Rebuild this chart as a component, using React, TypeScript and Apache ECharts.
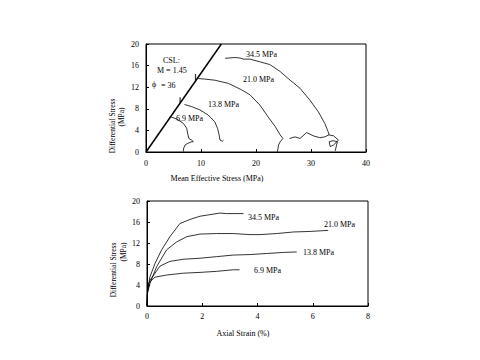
import React, { useEffect, useRef } from "react";
import * as echarts from "echarts";

// ---- Top chart: differential stress vs mean effective stress (MPa) ----
const cslLine: number[][] = [[0, 0], [13.7, 20]];
const stress345: number[][] = [
  [14.4, 17.35], [16.2, 17.5], [17.1, 17.4], [17.7, 17.2], [18.9, 17.2], [20.7, 16.7], [22.5, 16.2],
  [24.4, 14.9], [26.2, 13.3], [28.0, 11.8], [29.8, 9.6], [31.3, 7.5], [32.5, 5.3], [33.1, 3.8],
  [33.3, 3.15], [34.1, 3.0], [35.0, 2.2], [34.1, 1.3], [33.5, 1.0], [33.3, 1.9], [34.0, 2.1],
  [34.8, 1.9], [34.4, 0.2],
];
const stress345b: number[][] = [
  [26.1, 2.5], [27.1, 2.8], [28.0, 2.5], [29.2, 3.6], [30.4, 3.0], [31.6, 2.65], [32.5, 2.8], [33.3, 3.2],
];
const stress210: number[][] = [
  [9.5, 13.6], [10.7, 13.5], [12.5, 13.3], [15.0, 12.7], [17.4, 11.5], [18.9, 10.6], [20.7, 8.7],
  [22.2, 6.5], [23.5, 4.7], [24.4, 3.15], [24.9, 2.5], [24.4, 1.9], [24.1, 1.3], [23.9, 0.05],
];
const stress138: number[][] = [
  [7.0, 8.8], [8.3, 8.4], [9.8, 7.8], [11.3, 6.85], [12.5, 5.6], [13.0, 4.4], [13.3, 3.15],
  [13.45, 2.2], [13.9, 2.0], [14.1, 2.2],
];
const stress69: number[][] = [
  [4.55, 6.5], [5.6, 6.1], [6.8, 5.3], [7.4, 4.4], [7.6, 3.3], [7.8, 2.5], [8.3, 2.2], [8.6, 1.9],
  [8.3, 1.9], [7.6, 1.6], [7.1, 1.3], [6.8, 0.55], [6.8, 0.1],
];
const cslMarks: number[][] = [[9.0, 13.9], [6.2, 9.6]];

// ---- Bottom chart: differential stress vs axial strain (%) ----
const strain345: number[][] = [
  [0, 0], [0.01, 1.8], [0.02, 3.1], [0.11, 5.6], [0.29, 8.1], [0.53, 10.7], [0.83, 13.2], [1.19, 15.7],
  [1.56, 16.5], [1.92, 17.1], [2.28, 17.4], [2.64, 17.7], [2.88, 17.6], [3.49, 17.6],
];
const strain210: number[][] = [
  [0, 0], [0.02, 2.5], [0.11, 4.35], [0.35, 7.5], [0.71, 10.7], [1.07, 12.2], [1.44, 13.2], [1.92, 13.7],
  [2.52, 13.8], [3.12, 13.8], [3.73, 13.6], [4.09, 13.6], [4.69, 13.8], [5.3, 14.1], [5.9, 14.2], [6.56, 14.4],
];
const strain138: number[][] = [
  [0, 0], [0.02, 2.8], [0.11, 4.9], [0.47, 7.6], [0.83, 8.5], [1.31, 8.9], [1.92, 9.1], [2.52, 9.4],
  [3.12, 9.7], [3.73, 9.8], [4.33, 10.0], [4.93, 10.2], [5.42, 10.3],
];
const strain69: number[][] = [
  [0, 0], [0.02, 2.5], [0.05, 4.35], [0.29, 5.5], [0.71, 5.9], [1.31, 6.25], [1.92, 6.4], [2.52, 6.6],
  [3.12, 6.9], [3.35, 6.9],
];

const topXTicks = [0, 10, 20, 30, 40];
const bottomXTicks = [0, 2, 4, 6, 8];

const FONT = "Liberation Serif";

export default function App() {
  const ref = useRef<HTMLDivElement>(null);
  useEffect(() => {
    if (!ref.current) return;
    const chart = echarts.init(ref.current, undefined, { renderer: "svg" });
    const axisCommon = {
      axisLine: { show: true, lineStyle: { color: "#000", width: 1 } },
      axisTick: { show: true, inside: true, length: 3, lineStyle: { color: "#000" } },
      splitLine: { show: false },
      axisLabel: { color: "#000", fontFamily: FONT, fontSize: 8 },
    };
    const line = (data: number[][], xi: number, width = 0.8) => ({
      type: "line",
      data,
      xAxisIndex: xi,
      yAxisIndex: xi,
      symbol: "none",
      lineStyle: { color: "#000", width },
      silent: true,
    });
    const text = (t: string, x: number, y: number, extra: any = {}) => ({
      type: "text",
      x,
      y,
      style: { text: t, fill: "#000", font: `8px '${FONT}'`, textVerticalAlign: "middle", ...extra },
    });
    const rtext = (t: string, x: number, y: number, size: number) => ({
      type: "text",
      x,
      y,
      rotation: Math.PI / 2,
      style: {
        text: t,
        fill: "#000",
        font: `${size}px '${FONT}'`,
        textAlign: "center",
        textVerticalAlign: "middle",
      },
    });
    chart.setOption({
      animation: false,
      backgroundColor: "#fff",
      grid: [
        { left: 146, top: 44, width: 220, height: 108, show: true, borderColor: "#000", borderWidth: 1, backgroundColor: "transparent" },
        { left: 147, top: 201, width: 221, height: 105, show: true, borderColor: "#000", borderWidth: 1, backgroundColor: "transparent" },
      ],
      xAxis: [
        { ...axisCommon, type: "value", gridIndex: 0, min: 0, max: 40, interval: 10, axisLabel: { ...axisCommon.axisLabel, margin: 7 } },
        { ...axisCommon, type: "value", gridIndex: 1, min: 0, max: 8, interval: 2, axisLabel: { ...axisCommon.axisLabel, margin: 6 } },
      ],
      yAxis: [
        { ...axisCommon, type: "value", gridIndex: 0, min: 0, max: 20, interval: 4, axisLabel: { ...axisCommon.axisLabel, margin: 7 } },
        { ...axisCommon, type: "value", gridIndex: 1, min: 0, max: 20, interval: 4, axisLabel: { ...axisCommon.axisLabel, margin: 7 } },
      ],
      series: [
        line(cslLine, 0, 1.5),
        line(stress345, 0),
        line(stress345b, 0),
        line(stress210, 0),
        line(stress138, 0),
        line(stress69, 0),
        {
          type: "scatter",
          data: cslMarks,
          xAxisIndex: 0,
          yAxisIndex: 0,
          symbol: "rect",
          symbolSize: [1.2, 6],
          itemStyle: { color: "#000" },
          silent: true,
        },
        line(strain345, 1),
        line(strain210, 1),
        line(strain138, 1),
        line(strain69, 1),
      ],
      graphic: [
        // top chart annotations
        text("34.5 MPa", 246, 54),
        text("21.0 MPa", 243, 79),
        text("13.8 MPa", 208, 104),
        text("6.9 MPa", 176, 118),
        text("CSL:", 163, 60),
        text("M = 1.45", 157, 70),
        text("\u03d5", 152, 84),
        text("= 36", 161, 85),
        text("Mean Effective Stress (MPa)", 217, 178, { textAlign: "center" }),
        { ...rtext("Differential Stress", 112, 126, 7.5), rotation: Math.PI / 2 },
        { ...rtext("(MPa)", 121, 117, 7.5), rotation: Math.PI / 2 },
        // bottom chart annotations
        text("34.5 MPa", 248, 217),
        text("21.0 MPa", 324, 224),
        text("13.8 MPa", 303, 252),
        text("6.9 MPa", 254, 270),
        text("Axial Strain (%)", 243, 333, { textAlign: "center" }),
        { ...rtext("Differential Stress", 113, 270, 7.5), rotation: Math.PI / 2 },
        { ...rtext("(MPa)", 123, 252, 7.5), rotation: Math.PI / 2 },
      ],
    });
    return () => chart.dispose();
  }, []);
  return (
    <div
      ref={ref}
      style={{ position: "absolute", left: 0, top: 0, width: 480, height: 360, background: "#fff" }}
    />
  );
}
